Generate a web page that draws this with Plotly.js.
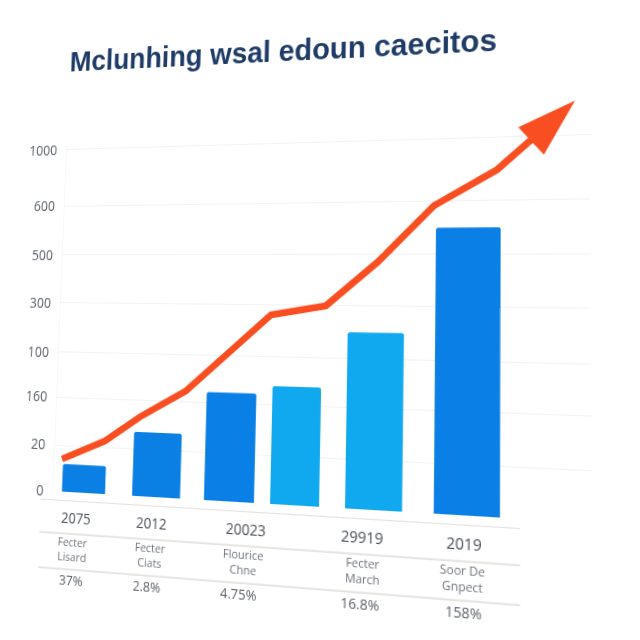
<!DOCTYPE html>
<html><head><meta charset="utf-8">
<script src="https://cdn.plot.ly/plotly-3.0.1.min.js"></script>
<style>html,body{margin:0;padding:0;background:#fff;overflow:hidden;width:640px;height:640px}
#chart{width:640px;height:640px;transform-origin:0 0}</style></head>
<body><div id="chart"></div>
<script>
// axis labels (the source's y labels are evenly spaced, not monotonic)
var yTickText = ['0','20','160','100','300','500','600','1000'];
var yTickPos  = [0,0.92,1.89,2.80,3.81,4.80,5.82,7];
var yearLabels = ['2075','2012','20023','29919','2019'];
var yearPos    = [0.051,0.205,0.390,0.606,0.786];
var row1Labels = ['Fecter<br>Lisard','Fecter<br>Ciats','Flourice<br>Chne','Fecter<br>March','Soor De<br>Gnpect'];
var row1Pos    = [0.046,0.205,0.386,0.607,0.783];
var row2Labels = ['37%','2.8%','4.75%','16.8%','158%'];
var row2Pos    = [0.046,0.200,0.378,0.604,0.785];
// bars
var barPos    = [0.0646,0.2126,0.356,0.4808,0.6257,0.790];
var barValues = [0.551,1.252,2.086,2.241,3.304,5.30];
var barWidths = [0.0895,0.096,0.0966,0.0916,0.1027,0.114];
var barColors = ['#0a7fe4','#0a7fe4','#0a7fe6','#10a9f0','#10a9f0','#0a7fe6'];
// trend line
var linePos    = [0.0174,0.1056,0.1755,0.2664,0.429,0.5329,0.6284,0.729,0.8405,0.908];
var lineValues = [0.648,1.048,1.552,2.097,3.62,3.808,4.657,5.722,6.386,7.01];
var arrowPos = [0.975], arrowValue = [7.645];

var titleText = 'Mclunhing wsal edoun caecitos';
var gray='#5b6068';
var yMax=8, plotTop=150-340/7, plotH=490-plotTop;
// distance below the zero line, as a share of the 0..7 span, expressed in paper units
function below(d){return -d*340/plotH;}

function lbl(t,x,yp,size,color){return {text:t,x:x,y:yp,xref:'x',yref:'paper',showarrow:false,xanchor:'center',yanchor:'middle',align:'center',font:{family:'Open Sans',size:size,color:color}};}
var anns=[];
row1Labels.forEach(function(t,i){anns.push(lbl(t,row1Pos[i],below(0.160),11,'#70757c'));});
row2Labels.forEach(function(t,i){anns.push(lbl(t,row2Pos[i],below(0.247),13,gray));});
function rule(d,c){return {type:'line',xref:'paper',yref:'paper',x0:-0.024,x1:0.881,y0:below(d),y1:below(d),line:{color:c,width:1.2}};}
var shapes=[rule(0.025,'#e6e2de'),rule(0.118,'#dcd8d4'),rule(0.218,'#dcd8d4'),
 {type:'line',xref:'x',yref:'y',x0:0,x1:0,y0:0,y1:7,line:{color:'#efeff1',width:1},layer:'below'}];

var traces=[
 {type:'bar',x:barPos,y:barValues,width:barWidths,marker:{color:barColors,line:{width:0},cornerradius:2},hoverinfo:'skip'},
 {type:'scatter',mode:'lines',x:linePos,y:lineValues,line:{color:'#f94e22',width:6.5,shape:'linear'},hoverinfo:'skip'},
 {type:'scatter',mode:'markers',x:arrowPos,y:arrowValue,marker:{symbol:'arrow',size:56,color:'#f94e22',angle:48,line:{width:0}},hoverinfo:'skip'}
];
var layout={
 width:640,height:640,showlegend:false,paper_bgcolor:'#fff',plot_bgcolor:'#fff',
 margin:{l:66,r:50,t:plotTop,b:150},
 title:{text:titleText,x:0.104,xanchor:'left',xref:'container',y:0.908,yanchor:'middle',yref:'container',
   font:{family:'Liberation Sans',size:29.3,color:'#1f3c66',weight:700}},
 xaxis:{range:[0,1],showgrid:false,zeroline:false,showline:false,tickmode:'array',tickvals:yearPos,ticktext:yearLabels,
   ticks:'',ticklabelstandoff:15,tickfont:{family:'Open Sans',size:14,color:'#4a4f57'}},
 yaxis:{range:[0,yMax],tickmode:'array',tickvals:yTickPos,ticktext:yTickText,gridcolor:'#f3f3f3',gridwidth:1,
   zeroline:false,showline:false,ticks:'',ticklabelstandoff:9,
   tickfont:{family:'Open Sans',size:14,color:gray}},
 annotations:anns,
 shapes:shapes
};
Plotly.newPlot('chart',traces,layout,{displayModeBar:false,staticPlot:true});

// The source is photographed in perspective: map the flat plot rectangle on to the photographed quad.
(function(){
 var L=66,T=150,W=524,H=340;
 var p00=[66,150],p10=[590,135],p11=[592,523],p01=[52.5,491];
 var dx1=p10[0]-p11[0],dx2=p01[0]-p11[0],sx=p00[0]-p10[0]+p11[0]-p01[0];
 var dy1=p10[1]-p11[1],dy2=p01[1]-p11[1],sy=p00[1]-p10[1]+p11[1]-p01[1];
 var det=dx1*dy2-dx2*dy1;
 var g=(sx*dy2-dx2*sy)/det,h=(dx1*sy-sx*dy1)/det;
 var a=p10[0]*(1+g)-p00[0],c=p01[0]*(1+h)-p00[0],b0=p00[0];
 var d=p10[1]*(1+g)-p00[1],e=p01[1]*(1+h)-p00[1],b1=p00[1];
 function row(r0,r1,r2){return [r0/W,r1/H,r2-r0*L/W-r1*T/H];}
 var m0=row(a,c,b0),m1=row(d,e,b1),m2=row(g,h,1);
 document.getElementById('chart').style.transform='matrix3d('+[m0[0],m1[0],0,m2[0],m0[1],m1[1],0,m2[1],0,0,1,0,m0[2],m1[2],0,m2[2]].join(',')+')';
})();
</script></body></html>
